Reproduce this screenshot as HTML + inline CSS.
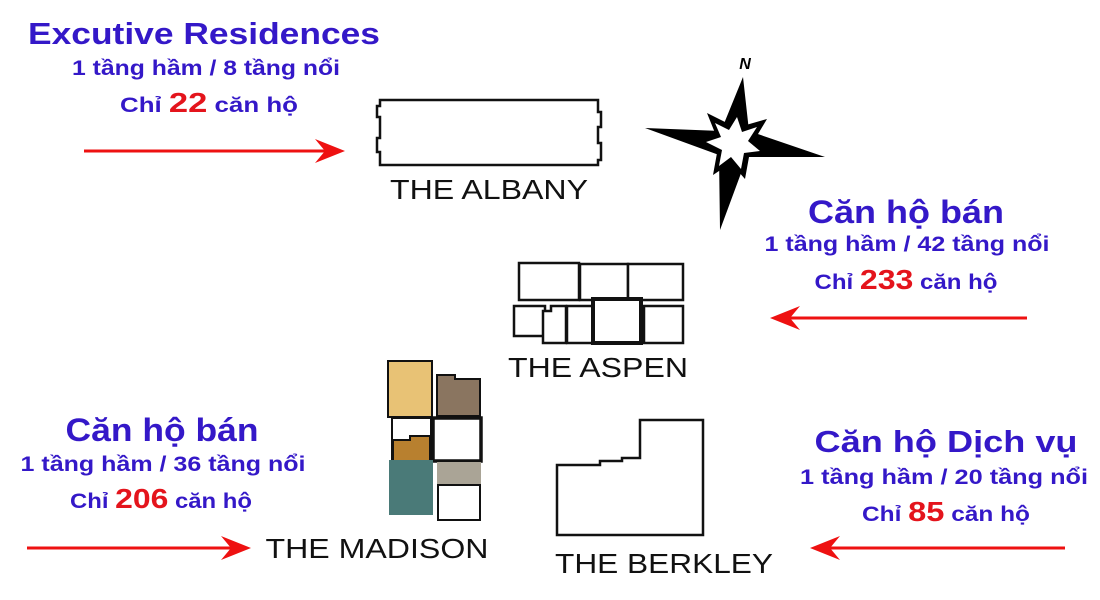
<!DOCTYPE html>
<html><head><meta charset="utf-8"><style>
html,body{margin:0;padding:0;background:#fff;}
svg{display:block}
.b{font-family:"Liberation Sans","DejaVu Sans",sans-serif;font-weight:bold;fill:#3418c8}
.r{fill:#e4141c}
.lbl{font-family:"Liberation Sans",sans-serif;fill:#111;font-size:28px}
</style></head><body>
<svg width="1100" height="600" viewBox="0 0 1100 600" xmlns="http://www.w3.org/2000/svg">
<defs>
<polygon id="ah" points="0,0 -30,-12 -20,0 -30,12" fill="#ee1111"/>
</defs>
<!-- top-left text -->
<text class="b" x="204" y="44" font-size="31" text-anchor="middle" textLength="352" lengthAdjust="spacingAndGlyphs">Excutive Residences</text>
<text class="b" x="206" y="75" font-size="21" text-anchor="middle" textLength="268" lengthAdjust="spacingAndGlyphs">1 tầng hầm / 8 tầng nổi</text>
<text class="b" x="209" y="112" font-size="21" text-anchor="middle" textLength="178" lengthAdjust="spacingAndGlyphs">Chỉ <tspan class="r" font-size="28">22</tspan> căn hộ</text>
<!-- right top -->
<text class="b" x="906" y="223" font-size="32" text-anchor="middle" textLength="196" lengthAdjust="spacingAndGlyphs">Căn hộ bán</text>
<text class="b" x="907" y="251" font-size="21" text-anchor="middle" textLength="285" lengthAdjust="spacingAndGlyphs">1 tầng hầm / 42 tầng nổi</text>
<text class="b" x="906" y="289" font-size="21" text-anchor="middle" textLength="183" lengthAdjust="spacingAndGlyphs">Chỉ <tspan class="r" font-size="28">233</tspan> căn hộ</text>
<!-- left bottom -->
<text class="b" x="162" y="441" font-size="32" text-anchor="middle" textLength="193" lengthAdjust="spacingAndGlyphs">Căn hộ bán</text>
<text class="b" x="163" y="471" font-size="21" text-anchor="middle" textLength="285" lengthAdjust="spacingAndGlyphs">1 tầng hầm / 36 tầng nổi</text>
<text class="b" x="161" y="508" font-size="21" text-anchor="middle" textLength="182" lengthAdjust="spacingAndGlyphs">Chỉ <tspan class="r" font-size="28">206</tspan> căn hộ</text>
<!-- right bottom -->
<text class="b" x="946" y="452" font-size="31" text-anchor="middle" textLength="263" lengthAdjust="spacingAndGlyphs">Căn hộ Dịch vụ</text>
<text class="b" x="944" y="484" font-size="21" text-anchor="middle" textLength="288" lengthAdjust="spacingAndGlyphs">1 tầng hầm / 20 tầng nổi</text>
<text class="b" x="946" y="521" font-size="21" text-anchor="middle" textLength="168" lengthAdjust="spacingAndGlyphs">Chỉ <tspan class="r" font-size="28">85</tspan> căn hộ</text>

<!-- arrows -->
<g stroke="#ee1111" stroke-width="3">
<line x1="84" y1="151" x2="330" y2="151"/>
<line x1="27" y1="548" x2="236" y2="548"/>
<line x1="785" y1="318" x2="1027" y2="318"/>
<line x1="825" y1="548" x2="1065" y2="548"/>
</g>
<use href="#ah" transform="translate(345,151)"/>
<use href="#ah" transform="translate(251,548)"/>
<use href="#ah" transform="translate(770,318) rotate(180)"/>
<use href="#ah" transform="translate(810,548) rotate(180)"/>

<!-- Albany -->
<g fill="none" stroke="#111" stroke-width="2.5">
<path d="M380,100 H598 V112 H601 V127 H598 V143 H601 V160 H598 V165 H380 V152 H377 V138 H380 V117 H377 V106 H380 Z"/>
</g>
<text class="lbl" x="489" y="199" text-anchor="middle" textLength="198" lengthAdjust="spacingAndGlyphs">THE ALBANY</text>

<!-- Aspen -->
<g fill="#fff" stroke="#111" stroke-width="2.5">
<rect x="519" y="263" width="60" height="37"/>
<rect x="580" y="264" width="48" height="36"/>
<rect x="628" y="264" width="55" height="36"/>
<rect x="514" y="306" width="31" height="30"/>
<path d="M543,343 V311 H551 V306 H566 V343 Z"/>
<rect x="567" y="306" width="26" height="37"/>
<rect x="593" y="299" width="48" height="44" stroke-width="4"/>
<rect x="644" y="306" width="39" height="37"/>
</g>
<text class="lbl" x="598" y="377" text-anchor="middle" textLength="180" lengthAdjust="spacingAndGlyphs">THE ASPEN</text>

<!-- Madison -->
<g stroke="#111" stroke-width="2">
<rect x="388" y="361" width="44" height="56" fill="#e8c275"/>
<path d="M437,375 H455 V379 H480 V416 H437 Z" fill="#8a7560"/>
<rect x="392" y="418" width="39" height="43" fill="#fff"/>
<path d="M393,461 V440 H410 V436 H430 V461 Z" fill="#b8802f"/>
<rect x="433" y="418" width="48" height="43" fill="#fff" stroke-width="3.5"/>
<rect x="390" y="461" width="42" height="53" fill="#4a7a78" stroke="#4a7a78"/>
<rect x="438" y="463" width="42" height="21" fill="#aaa496" stroke="#aaa496"/>
<rect x="438" y="485" width="42" height="35" fill="#fff"/>
</g>
<text class="lbl" x="377" y="558" text-anchor="middle" textLength="223" lengthAdjust="spacingAndGlyphs">THE MADISON</text>

<!-- Berkley -->
<path d="M557,467 V535 H703 V420 H640 V458 H622 V461 H600 V465 H557 Z" fill="none" stroke="#111" stroke-width="2.5"/>
<text class="lbl" x="664" y="573" text-anchor="middle" textLength="218" lengthAdjust="spacingAndGlyphs">THE BERKLEY</text>

<!-- compass -->
<g transform="translate(733,145)">
<path d="M10,-68 L16,-14 L92,12 L14,12 L-13,85 L-14,10 L-88,-17 L-12,-14 Z" fill="#000"/>
<path d="M5,-40 L13,-20 L34,-26 L22,-6 L38,8 L16,12 L12,34 L-2,18 L-20,30 L-16,8 L-38,-4 L-18,-12 L-26,-32 L-6,-22 Z" fill="#000"/>
<path d="M4,-28 L9,-13 L24,-18 L15,-4 L27,6 L11,8 L8,24 L-2,12 L-14,21 L-11,5 L-27,-3 L-12,-8 L-18,-22 L-4,-15 Z" fill="#fff"/>
<text x="12" y="-76" font-family="Liberation Sans,sans-serif" font-weight="bold" font-style="italic" font-size="16" fill="#000" text-anchor="middle">N</text>
</g>
</svg>
</body></html>
